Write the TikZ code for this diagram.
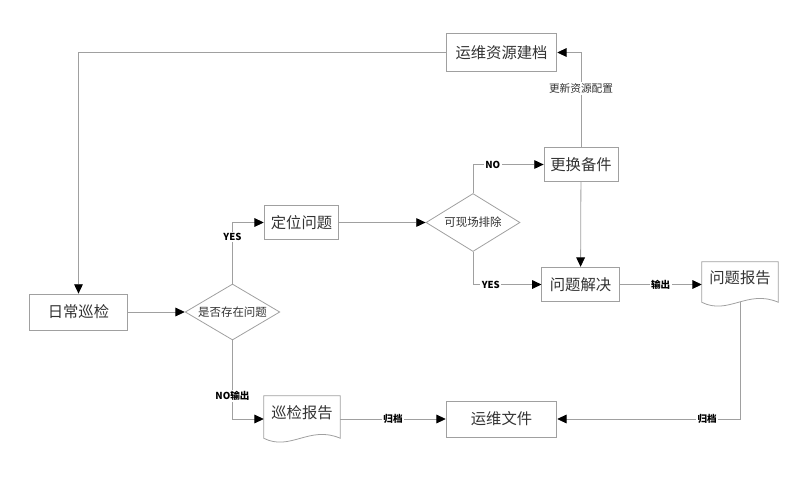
\documentclass[tikz,border=0pt]{standalone}
\usepackage{fontspec}
\setmainfont{Noto Sans CJK SC}
\usetikzlibrary{arrows.meta,shapes.geometric}

\definecolor{linegray}{HTML}{A0A0A0}
\definecolor{textgray}{HTML}{333333}

\begin{document}
\begin{tikzpicture}[
    x=0.75pt, y=-0.75pt,
    arrow/.style={-{Triangle[length=7pt, width=6.5pt, black]}, linegray, semithick},
    box/.style={draw=linegray, semithick, rectangle, inner sep=0pt, text=textgray,
        font=\fontsize{11.5pt}{13pt}\selectfont},
    decision/.style={draw=linegray, semithick, diamond, aspect=1.7, inner sep=0pt, text=textgray,
        font=\fontsize{8.6pt}{10pt}\selectfont},
    docnode/.style={rectangle, inner sep=0pt, minimum width=57pt, text=textgray,
        font=\fontsize{11.5pt}{13pt}\selectfont},
    lbl/.style={fill=white, inner sep=1pt, text=black, font=\fontsize{7.2pt}{9pt}\selectfont\bfseries},
    note/.style={fill=white, inner sep=1pt, text=textgray, font=\fontsize{8pt}{9pt}\selectfont}
]
\useasboundingbox (0,0) rectangle (797,479);

% Process boxes
\node[box, minimum width=83pt, minimum height=28pt] (ywzy) at (501.5, 52.5) {运维资源建档};
\node[box, minimum width=73pt, minimum height=27pt] (rcxj) at (78.5, 312) {日常巡检};
\node[box, minimum width=56pt, minimum height=26pt] (dwwt) at (301.5, 222.5) {定位问题};
\node[box, minimum width=55.5pt, minimum height=26pt] (ghbj) at (581, 164.5) {更换备件};
\node[box, minimum width=58pt, minimum height=26pt] (wtjj) at (580.5, 284.5) {问题解决};
\node[box, minimum width=83pt, minimum height=27pt] (ywwj) at (501.5, 419) {运维文件};

% Decisions
\node[decision, minimum width=71pt, minimum height=42pt] (sfcz) at (232.5, 312) {是否存在问题};
\node[decision, minimum width=70.5pt, minimum height=43.5pt] (kxcp) at (473, 222.5) {可现场排除};

% Documents
\node[docnode, minimum height=25.5pt] (xjbg) at (302, 413) {巡检报告};
\node[docnode, minimum height=24pt] (wtbg) at (740, 278) {问题报告};
\foreach \n in {xjbg, wtbg} {
    \draw[linegray, semithick] (\n.north west) -- (\n.north east) -- ([yshift=-6pt]\n.south east)
        .. controls ([xshift=-23pt, yshift=4pt]\n.south east) and ([xshift=20pt, yshift=-16pt]\n.south west)
        .. ([yshift=-6pt]\n.south west) -- cycle;
}

% Connectors
\draw[arrow] (ywzy.west) -| (rcxj.north);
\draw[arrow] (rcxj) -- (sfcz);
\draw[arrow] (sfcz.north) |- (dwwt.west) node[lbl, pos=0.38] {YES};
\draw[arrow] (sfcz.south) |- ([yshift=-4.5pt]xjbg.west) node[lbl, pos=0.355] {NO输出};
\draw[arrow] (dwwt) -- (kxcp);
\draw[arrow] (kxcp.north) |- (ghbj.west) node[lbl, pos=0.64] {NO};
\draw[arrow] (kxcp.south) |- (wtjj.west) node[lbl, pos=0.63] {YES};
\draw[arrow] (ghbj.north) |- (ywzy.east) node[note, pos=0.31] {更新资源配置};
\draw[arrow] (ghbj) -- (wtjj);
\draw[arrow] (wtjj.east) -- (wtbg.west |- wtjj.east) node[lbl, midway] {输出};
\draw[arrow] ([yshift=-6pt]wtbg.south) |- (ywwj.east) node[lbl, pos=0.59] {归档};
\draw[arrow] ([yshift=-4.5pt]xjbg.east) -- (ywwj.west) node[lbl, midway] {归档};

\end{tikzpicture}
\end{document}
